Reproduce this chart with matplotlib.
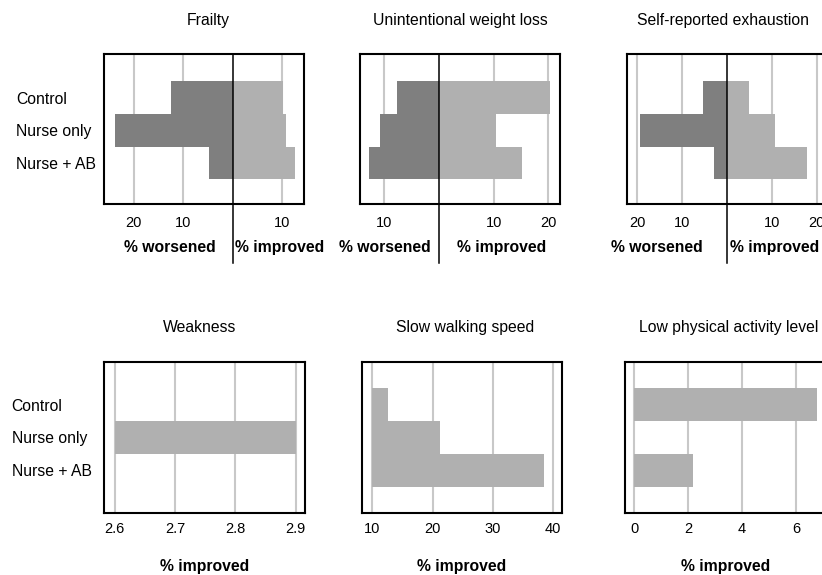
import numpy as np
import matplotlib
matplotlib.use("Agg")
import matplotlib.pyplot as plt

plt.rcParams['font.family'] = ['Liberation Sans', 'DejaVu Sans']

categories = ["Control", "Nurse only", "Nurse + AB"]

frailty_worsened = [12.5, 23.9, 4.8]
frailty_improved = [10.2, 10.8, 12.7]
weight_worsened = [7.7, 10.8, 12.8]
weight_improved = [20.3, 10.5, 15.2]
exhaust_worsened = [5.3, 19.3, 2.8]
exhaust_improved = [4.9, 10.6, 17.9]

weakness_improved = [np.nan, 2.9, np.nan]
walking_improved = [12.65, 21.3, 38.4]
activity_improved = [6.78, np.nan, 2.18]

top_titles = ["Frailty", "Unintentional weight loss", "Self-reported exhaustion"]
bottom_titles = ["Weakness", "Slow walking speed", "Low physical activity level"]

DARK = "#7f7f7f"
LIGHT = "#b0b0b0"
GRID = "#c8c8c8"
FS = 11.3
TFS = 10.5

W, H = 822, 575
fig = plt.figure(figsize=(W / 100, H / 100), dpi=100)


def px_axes(left, top, width, height):
    return fig.add_axes([left / W, (H - top - height) / H, width / W, height / H])


y = np.arange(len(categories))


def style(ax):
    for s in ax.spines.values():
        s.set_color("black")
        s.set_linewidth(1.5)
    ax.grid(axis="x", color=GRID, linewidth=1.5, zorder=0)
    ax.grid(axis="y", visible=False)
    ax.set_axisbelow(True)
    ax.tick_params(axis="both", length=0, labelsize=TFS)


# ---- top row: diverging bars
top_specs = [
    (104.3, frailty_worsened, frailty_improved, (-26.0, 14.5), [-20, -10, 10],
     0.329, 0.875, 0.52),
    (360.0, weight_worsened, weight_improved, (-14.4, 22.1), [-10, 10, 20],
     0.125, 0.708, 0.50),
    (626.7, exhaust_worsened, exhaust_improved, (-22.3, 22.2), [-20, -10, 10, 20],
     0.153, 0.742, 0.48),
]

for i, (left, worse, impr, xl, ticks, wx, ix, tx) in enumerate(top_specs):
    ax = px_axes(left, 54, 200, 150)
    style(ax)
    ax.barh(y, [-v for v in worse], height=1.0, color=DARK, zorder=2)
    ax.barh(y, impr, height=1.0, color=LIGHT, zorder=2)
    ax.set_xlim(*xl)
    ax.set_ylim(3.26, -1.34)
    ax.set_xticks(ticks)
    ax.set_xticklabels([str(abs(t)) for t in ticks])
    ax.tick_params(axis="x", pad=8.6)
    ax.axvline(0, ymin=-0.393, ymax=1, color="black", linewidth=1.1,
               clip_on=False, zorder=5)
    ax.text(wx, -0.293, "% worsened", transform=ax.transAxes, ha="center",
            va="center", fontsize=FS, fontweight="bold")
    ax.text(ix, -0.293, "% improved", transform=ax.transAxes, ha="center",
            va="center", fontsize=FS, fontweight="bold")
    ax.text(tx, 1.22, top_titles[i], transform=ax.transAxes, ha="center",
            va="center", fontsize=FS)
    if i == 0:
        ax.set_yticks(y)
        ax.set_yticklabels(categories, fontsize=FS, ha="left")
        ax.tick_params(axis="y", pad=63.6)
    else:
        ax.set_yticks([])

# ---- bottom row: improved only
bottom_specs = [
    (104.3, weakness_improved, 2.6, (2.583, 2.915), [2.6, 2.7, 2.8, 2.9],
     ["2.6", "2.7", "2.8", "2.9"], 0.473),
    (361.7, walking_improved, 10, (8.24, 41.5), [10, 20, 30, 40],
     ["10", "20", "30", "40"], 0.516),
    (625.0, activity_improved, 0, (-0.35, 7.1), [0, 2, 4, 6],
     ["0", "2", "4", "6"], 0.515),
]

for i, (left, vals, base, xl, ticks, tlabels, tx) in enumerate(bottom_specs):
    ax = px_axes(left, 362.3, 200.5, 151)
    style(ax)
    widths = [v - base if not np.isnan(v) else 0 for v in vals]
    mask = [not np.isnan(v) for v in vals]
    ax.barh(y[mask], np.array(widths)[mask], left=base, height=1.0,
            color=LIGHT, zorder=2)
    ax.set_xlim(*xl)
    ax.set_ylim(3.31, -1.29)
    ax.set_xticks(ticks)
    ax.set_xticklabels(tlabels)
    ax.tick_params(axis="x", pad=6.5)
    ax.text(0.5, -0.354, "% improved", transform=ax.transAxes, ha="center",
            va="center", fontsize=FS, fontweight="bold")
    ax.text(tx, 1.229, bottom_titles[i], transform=ax.transAxes, ha="center",
            va="center", fontsize=FS)
    if i == 0:
        ax.set_yticks(y)
        ax.set_yticklabels(categories, fontsize=FS, ha="left")
        ax.tick_params(axis="y", pad=66.7)
    else:
        ax.set_yticks([])

fig.savefig("out.png", dpi=100)
